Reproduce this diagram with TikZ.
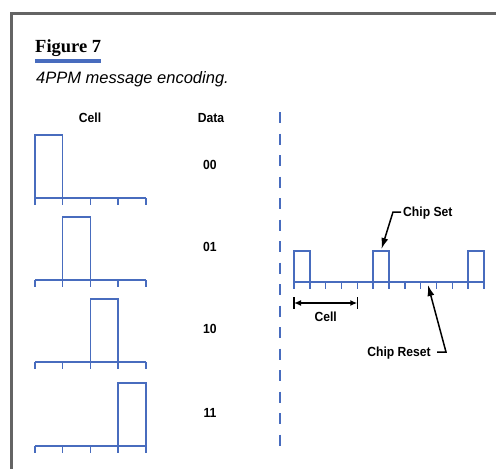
\documentclass[tikz,border=0pt]{standalone}
\usepackage{fontspec}
\setmainfont{Liberation Serif}
\setsansfont{Liberation Sans}
\newfontfamily\condfont[FakeStretch=0.92]{Liberation Sans}
\usepackage{tikz}
\usetikzlibrary{arrows.meta,positioning}
\definecolor{sigblue}{RGB}{72,108,190}
\definecolor{framegray}{RGB}{100,100,100}
\tikzset{
  frameline/.style={draw=framegray, line width=2.5pt},
  signal/.style={draw=sigblue, line width=1.4pt},
  divider/.style={draw=sigblue, line width=1.4pt, dash pattern=on 11pt off 10.5pt},
  tagtext/.style={font=\condfont\bfseries\fontsize{13.2}{15}\selectfont, inner sep=1pt, text height=9.4pt, text depth=0pt},
  leader/.style={-{Latex[length=11pt,width=7pt]}, line width=1.5pt},
  dimline/.style={{Latex[length=7pt,width=6pt]}-{Latex[length=7pt,width=6pt]}, line width=1.5pt},
  endbar/.style={line width=1.5pt}
}

\begin{document}
\begin{tikzpicture}[x=1pt, y=-1pt]
  \useasboundingbox (0,0) rectangle (496,469);
  \draw[frameline] (11.5,470) -- (11.5,13.5) -- (497,13.5);

  % title
  \node[anchor=base west, inner sep=0, font=\bfseries\fontsize{18.5}{20}\selectfont] (figtitle) at (35,52) {Figure 7};
  \fill[sigblue] (35,59) rectangle (101,62.5);
  \node[anchor=base west, inner sep=0, font=\sffamily\itshape\fontsize{16.5}{18}\selectfont] (subtitle) at (36,83.3) {4PPM message encoding.};

  % left: one cell per data value
  \node[tagtext] (cellhead) at (90,117.5) {Cell};
  \node[tagtext] (datahead) at (211,117.5) {Data};
  \foreach \k/\yb/\val in {0/198/00, 1/280/01, 2/362/10, 3/446/11}{
    \draw[signal] (35,\yb) -- (145.8,\yb);
    \foreach \t in {0,...,4}
      \draw[signal] ({35+27.7*\t},\yb) -- ++(0,7);
    \draw[signal] ({35+27.7*\k},\yb) -- ++(0,-63) -- ++(27.7,0) -- ++(0,63);
    \node[tagtext] (data\val) at (210,\yb-33) {\val};
  }

  \draw[divider] (280,112) -- (280,452);

  % right: chip stream
  \draw[signal] (294,282) -- (484,282);
  \foreach \t in {0,...,12}
    \draw[signal] ({294+15.83*\t},282) -- ++(0,7);
  \foreach \c in {0,5,11}
    \draw[signal] ({294+15.83*\c},282) -- ++(0,-31) -- ++(15.83,0) -- ++(0,31);

  \coordinate (cellL) at (294,303);
  \coordinate (cellR) at (357.3,303);
  \draw[endbar] (294,297) -- (294,309);
  \draw[endbar] (357.3,297) -- (357.3,309);
  \draw[dimline] (cellL) -- (cellR);
  \node[tagtext] (celltxt) at (325.7,317) {Cell};

  \node[tagtext, anchor=west] (settxt) at (402,212) {Chip Set};
  \coordinate (settip) at (381.5,249);
  \draw[leader] ([xshift=-1pt]settxt.west) -- ++(-8,0) -- (settip);

  \node[tagtext, anchor=east] (rsttxt) at (432,352) {Chip Reset};
  \coordinate (rsttip) at (428,285);
  \draw[leader] ([xshift=5pt]rsttxt.east) -- ++(9,0) -- (rsttip);
\end{tikzpicture}
\end{document}
